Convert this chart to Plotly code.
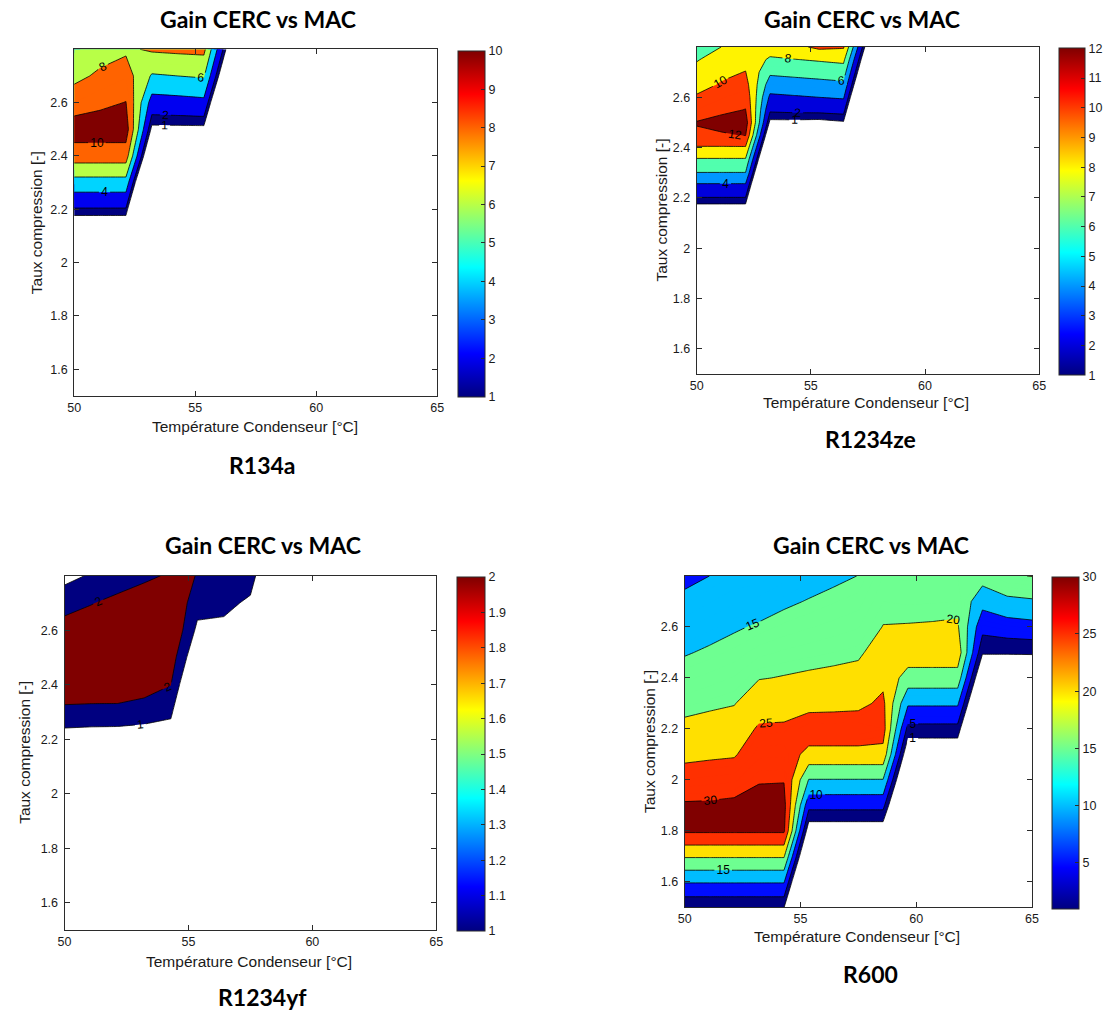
import plotly.graph_objects as go

# ---------------------------------------------------------------- data
T_COND = [50.0, 51.07, 52.14, 53.21, 54.29, 55.36, 56.43, 57.5, 58.57,
          59.64, 60.71, 61.79, 62.86, 63.93, 65.0]
TAUX = [1.5, 1.6, 1.7, 1.8, 1.9, 2.0, 2.1, 2.2, 2.3, 2.4, 2.5, 2.6, 2.7, 2.8]
TAUX_FINE = [1.5, 1.6, 1.7, 1.8, 1.9, 2.0, 2.1, 2.15, 2.2, 2.25, 2.3, 2.35,
             2.4, 2.45, 2.5, 2.55, 2.6, 2.65, 2.7, 2.75, 2.8]

# gain along "taux compression" for each condenser temperature (one list per T)
R134A_COLS = [
    [-22, -19, -15.5, -12, -8.8, -5.3, -1.8, 1.84, 5.2, 9.0, 11.0, 9.0, 7.55, 6.9],
    [-22, -19, -15.5, -12, -8.8, -5.3, -1.8, 1.84, 5.2, 9.0, 11.0, 9.6, 8.3, 7.3],
    [-22, -19, -15.5, -12, -8.8, -5.3, -1.8, 1.84, 5.2, 9.0, 11.0, 10.05, 8.9, 7.7],
    [-40, -36, -32, -28, -24, -20, -16, -11.5, -6.5, -2.7, 0.6, 3.15, 5.8, 8.25],
    [-40, -36, -32, -28, -24, -20, -16, -11.5, -6.5, -2.7, 0.6, 3.3, 6.0, 8.4],
    [-40, -36, -32, -28, -24, -20, -16, -11.5, -6.5, -2.7, 0.6, 3.5, 6.2, 8.5],
    [-40, -37, -34, -31, -28, -25, -22, -18.9, -15.7, -12.5, -9.3, -6.1, -2.9, -0.3],
    [-40, -40, -40, -40, -40, -40, -40, -40, -40, -40, -40, -40, -40, -40],
]
R1234ZE_COLS = [
    [-25, -21, -17, -13.3, -9.5, -5.7, -1.9, 0.0, 1.92, 3.7, 5.95, 7.7, 9.8, 11.75, 12.1, 11.0, 10.2, 9.4, 8.64, 7.86, 7.1],
    [-25, -21, -17, -13.3, -9.5, -5.7, -1.9, 0.0, 1.92, 3.7, 5.95, 7.7, 9.8, 11.8, 12.6, 11.6, 10.9, 10.15, 9.6, 8.9, 8.0],
    [-25, -21, -17, -13.3, -9.5, -5.7, -1.9, 0.0, 1.92, 3.7, 5.95, 7.7, 9.8, 12.1, 13.0, 12.05, 11.4, 10.7, 10.05, 9.5, 9.0],
    [-32, -29, -26, -23, -20, -17, -14, -12.5, -10.9, -8.6, -7.4, -5.2, -3.3, -1.4, 0.63, 2.27, 3.6, 5.0, 6.35, 7.7, 9.0],
    [-32, -29, -26, -23, -20, -17, -14, -12.5, -10.9, -8.6, -7.4, -5.2, -3.3, -1.4, 0.63, 2.4, 3.8, 5.2, 6.55, 7.95, 9.5],
    [-32, -29, -26, -23, -20, -17, -14, -12.5, -10.9, -8.6, -7.4, -5.2, -3.3, -1.4, 0.55, 2.45, 4.0, 5.4, 6.75, 8.2, 10.4],
    [-32, -29, -26, -23, -20, -17, -14, -12.5, -10.9, -8.6, -7.4, -5.2, -3.3, -1.4, 0.85, 2.6, 4.2, 5.6, 7.0, 8.45, 10.2],
    [-35, -32, -29, -26, -23, -20, -17, -15, -14, -13, -12, -11.5, -11.2, -11.1, -11, -9.25, -7.2, -5.1, -3.4, -1.9, -0.37],
    [-35, -35, -35, -35, -35, -35, -35, -35, -35, -35, -35, -35, -35, -35, -35, -35, -35, -35, -35, -35, -35],
]
R1234YF_COLS = [
    [-7.6, -6.4, -5.3, -4.1, -3.0, -1.8, -0.64, 0.52, 1.69, 2.85, 2.75, 2.46, 1.58, 0.7],
    [-7.6, -6.4, -5.3, -4.1, -3.0, -1.8, -0.64, 0.46, 1.65, 2.8, 2.8, 2.6, 1.95, 1.1],
    [-7.6, -6.4, -5.3, -4.1, -3.0, -1.8, -0.64, 0.44, 1.64, 2.8, 2.9, 2.8, 2.3, 1.42],
    [-7.6, -6.4, -5.3, -4.1, -3.0, -1.8, -0.64, 0.42, 1.47, 2.5, 2.8, 2.85, 2.5, 1.82],
    [-7.6, -6.4, -5.3, -4.1, -3.0, -1.8, -0.64, 0.4, 1.2, 2.02, 2.5, 3.0, 3.0, 2.11],
    [-7.0, -6.3, -5.6, -4.9, -4.2, -3.5, -2.9, -2.4, -1.8, -1.1, 0.0, 0.78, 1.38, 1.99],
    [-7.0, -6.3, -5.6, -4.9, -4.2, -3.5, -2.9, -2.4, -1.8, -1.1, -0.2, 0.7, 1.3, 1.8],
    [-7.0, -6.3, -5.6, -4.9, -4.2, -3.5, -2.9, -2.4, -1.8, -1.1, -0.6, 0.2, 0.8, 1.5],
    [-7.0, -6.3, -5.6, -4.9, -4.2, -3.5, -2.9, -2.4, -1.8, -1.5, -1.4, -1.3, -1.2, -1.0],
]
R600_COLS = [
    [1.2, 10.4, 20.5, 30.7, 30.5, 27.1, 23.9, 21.1, 18.7, 16.7, 14.7, 12.8, 10.9, 9.0],
    [1.2, 10.4, 20.5, 30.7, 30.6, 27.4, 24.3, 21.6, 19.3, 17.4, 15.5, 13.7, 11.9, 10.0],
    [1.2, 10.4, 20.5, 30.7, 31.0, 27.7, 24.6, 22.2, 19.8, 18.1, 16.3, 14.6, 12.8, 11.1],
    [1.2, 10.4, 20.5, 30.7, 31.5, 29.7, 27.7, 25.6, 22.8, 19.8, 17.6, 15.4, 13.4, 11.4],
    [1.2, 10.4, 20.5, 30.7, 31.5, 29.8, 27.8, 25.7, 23.1, 20.2, 18.2, 16.3, 14.4, 12.5],
    [-27.6, -19.1, -10.6, -2.1, 6.5, 14.8, 23.5, 28.0, 23.3, 20.6, 18.6, 16.9, 15.2, 13.5],
    [-27.6, -19.1, -10.6, -2.1, 6.5, 14.8, 23.5, 28.0, 23.5, 20.9, 19.0, 17.4, 15.9, 14.3],
    [-27.6, -19.1, -10.6, -2.1, 6.5, 14.8, 23.5, 28.0, 23.8, 21.3, 19.4, 17.9, 16.5, 15.05],
    [-27.6, -19.1, -10.6, -2.1, 6.5, 14.8, 23.5, 27.0, 26.0, 23.8, 21.9, 20.1, 19.0, 18.0],
    [-46.4, -39.3, -32.1, -25.0, -17.8, -10.7, -3.6, 3.6, 10.7, 17.9, 23.0, 20.2, 18.8, 17.8],
    [-46.4, -39.3, -32.1, -25.0, -17.8, -10.7, -3.6, 3.6, 10.7, 17.9, 23.0, 20.3, 18.9, 17.9],
    [-46.4, -39.3, -32.1, -25.0, -17.8, -10.7, -3.6, 3.6, 10.7, 17.9, 23.0, 20.5, 19.0, 18.0],
    [-69, -62, -55, -48, -41, -34, -27, -20, -12.4, -5.6, 1.5, 6.6, 11.7, 17.1],
    [-69, -62, -55, -48, -41, -34, -27, -20, -12.4, -5.6, 1.5, 7.75, 13.8, 19.6],
    [-69, -62, -55, -48, -41, -34, -27, -20, -12.4, -5.6, 1.6, 8.35, 14.4, 20.1],
]

LEVELS_R134A = [1, 2, 4, 6, 8, 10]
LEVELS_R1234ZE = [1, 2, 4, 6, 8, 10, 12]
LEVELS_R1234YF = [1, 2]
LEVELS_R600 = [1, 5, 10, 15, 20, 25, 30]

CB_TICKS_R134A = [1, 2, 3, 4, 5, 6, 7, 8, 9, 10]
CB_TICKS_R1234ZE = [1, 2, 3, 4, 5, 6, 7, 8, 9, 10, 11, 12]
CB_TICKS_R1234YF = [1, 1.1, 1.2, 1.3, 1.4, 1.5, 1.6, 1.7, 1.8, 1.9, 2]
CB_TEXT_R1234YF = ["1", "1.1", "1.2", "1.3", "1.4", "1.5", "1.6", "1.7", "1.8", "1.9", "2"]
CB_TICKS_R600 = [5, 10, 15, 20, 25, 30]

X_TICKS = [50, 55, 60, 65]
Y_TICKS = [1.6, 1.8, 2.0, 2.2, 2.4, 2.6]
Y_TICKTEXT = ["1.6", "1.8", "2", "2.2", "2.4", "2.6"]

TITLE = "Gain CERC vs MAC"
X_TITLE = "Température Condenseur [°C]"
Y_TITLE = "Taux compression [-]"

# ---------------------------------------------------------------- helpers
W, H = 1110, 1011
AX_FONT = "Liberation Sans, Arial, sans-serif"
AX_COLOR = "#2b2b2b"


def jet_rgb(t):
    t = min(max(t, 0.0), 1.0)
    r = min(max(1.5 - abs(4 * t - 3), 0), 1)
    g = min(max(1.5 - abs(4 * t - 2), 0), 1)
    b = min(max(1.5 - abs(4 * t - 1), 0), 1)
    return "rgb(%d,%d,%d)" % (round(255 * r), round(255 * g), round(255 * b))


JET_SCALE = [[i / 64, jet_rgb(i / 64)] for i in range(65)]


def fill_scale(levels):
    lo, hi = levels[0], levels[-1]
    n = int(round(hi - lo)) + 1
    scale = [[0.0, "white"], [0.5 / n, "white"]]
    for k in range(n):
        v = lo + k
        lv = max(l for l in levels if l <= v + 1e-9)
        c = jet_rgb((lv - lo) / (hi - lo))
        scale.append([(k + 0.5) / n, c])
        scale.append([min((k + 1.5) / n, 1.0), c])
    return scale


def fx(px):
    return px / W


def fy(py):
    return 1 - py / H


PANELS = [
    dict(name="R134a", x=T_COND[:len(R134A_COLS)], y=TAUX, cols=R134A_COLS,
         levels=LEVELS_R134A, cbt=CB_TICKS_R134A, cbtext=None,
         plot=(68, 435.7, 49.3, 396), cb=(456.7, 27.3, 50.7, 396.7),
         title=(253.8, 19), label=(258.3, 465), xt=(250.7, 426), yt=(30, 222.6)),
    dict(name="R1234ze", x=T_COND[:len(R1234ZE_COLS)], y=TAUX_FINE, cols=R1234ZE_COLS,
         levels=LEVELS_R1234ZE, cbt=CB_TICKS_R1234ZE, cbtext=None,
         plot=(698.5, 1045.4, 47, 374), cb=(1065.4, 26, 48.3, 375.3),
         title=(865.5, 19), label=(875, 439), xt=(870.4, 403), yt=(662.4, 210.5)),
    dict(name="R1234yf", x=T_COND[:len(R1234YF_COLS)], y=TAUX, cols=R1234YF_COLS,
         levels=LEVELS_R1234YF, cbt=CB_TICKS_R1234YF, cbtext=CB_TEXT_R1234YF,
         plot=(58.3, 434.7, 575.7, 930), cb=(456, 28.3, 576.7, 931),
         title=(258.8, 545), label=(259.2, 997), xt=(245.3, 961.7), yt=(18.3, 752.8)),
    dict(name="R600", x=T_COND[:len(R600_COLS)], y=TAUX, cols=R600_COLS,
         levels=LEVELS_R600, cbt=CB_TICKS_R600, cbtext=None,
         plot=(686.3, 1038.1, 576, 907.3), cb=(1058.1, 26.6, 576.7, 908.7),
         title=(875, 545), label=(875, 974), xt=(860.6, 936.7), yt=(650.5, 741.7)),
]

fig = go.Figure()
annotations = []
layout_axes = {}

for i, p in enumerate(PANELS, start=1):
    xs = "x" if i == 1 else "x%d" % i
    ys = "y" if i == 1 else "y%d" % i
    z = [list(r) for r in zip(*p["cols"])]
    lv = p["levels"]
    lo, hi = lv[0], lv[-1]

    # filled bands (white below the first level, MATLAB-style)
    fig.add_trace(go.Contour(
        x=p["x"], y=p["y"], z=z, xaxis=xs, yaxis=ys,
        autocontour=False,
        contours=dict(start=lo, end=hi, size=1, coloring="fill", showlines=False),
        colorscale=fill_scale(lv), showscale=False,
        line=dict(width=0, smoothing=0), hoverinfo="skip"))

    # black contour lines with labels
    rest = lv[1:]
    step = (rest[1] - rest[0]) if len(rest) > 1 else 1
    for (s, e, sz) in [(lo, lo + 0.5, 1), (rest[0], rest[-1] + step * 0.25, step)]:
        fig.add_trace(go.Contour(
            x=p["x"], y=p["y"], z=z, xaxis=xs, yaxis=ys,
            autocontour=False,
            contours=dict(start=s, end=e, size=sz, coloring="none",
                          showlabels=True,
                          labelfont=dict(family=AX_FONT, size=12, color="black")),
            line=dict(color="black", width=0.8, smoothing=0),
            showscale=False, hoverinfo="skip"))

    # continuous jet colour bar
    cbx, cbw, cbt_top, cbt_bot = p["cb"]
    cbar = dict(x=fx(cbx), xanchor="left", xref="paper",
                y=fy(cbt_bot), yanchor="bottom", yref="paper",
                len=(cbt_bot - cbt_top) / H, lenmode="fraction",
                thickness=cbw, thicknessmode="pixels", xpad=0, ypad=0,
                outlinecolor=AX_COLOR, outlinewidth=1,
                ticks="inside", ticklen=4, tickcolor=AX_COLOR,
                tickvals=p["cbt"],
                tickfont=dict(family=AX_FONT, size=12.5, color="#1a1a1a"))
    if p["cbtext"]:
        cbar["ticktext"] = p["cbtext"]
    fig.add_trace(go.Scatter(
        x=[None], y=[None], xaxis=xs, yaxis=ys, mode="markers",
        marker=dict(color=[lo], cmin=lo, cmax=hi, colorscale=JET_SCALE,
                    showscale=True, colorbar=cbar),
        showlegend=False, hoverinfo="skip"))

    x0, x1, y0, y1 = p["plot"]
    common = dict(showline=True, mirror="ticks", linecolor=AX_COLOR, linewidth=1,
                  ticks="inside", ticklen=5, tickcolor=AX_COLOR, showgrid=False,
                  zeroline=False, tickfont=dict(family=AX_FONT, size=12.5, color="#1a1a1a"))
    layout_axes["xaxis" if i == 1 else "xaxis%d" % i] = dict(
        domain=[fx(x0), fx(x1)], range=[50, 65], tickvals=X_TICKS,
        anchor=ys, **common)
    layout_axes["yaxis" if i == 1 else "yaxis%d" % i] = dict(
        domain=[fy(y1), fy(y0)], range=[1.5, 2.8], tickvals=Y_TICKS,
        ticktext=Y_TICKTEXT, anchor=xs, ticklabelstandoff=3, **common)

    tx, ty = p["title"]
    annotations.append(dict(text="<b>%s</b>" % TITLE, x=fx(tx), y=fy(ty), xref="paper", yref="paper",
                            xanchor="center", yanchor="middle", showarrow=False,
                            font=dict(family="Lato, Open Sans, sans-serif", size=23, color="black")))
    lx, ly = p["label"]
    annotations.append(dict(text="<b>%s</b>" % p["name"], x=fx(lx), y=fy(ly), xref="paper", yref="paper",
                            xanchor="center", yanchor="middle", showarrow=False,
                            font=dict(family="Lato, Open Sans, sans-serif", size=23, color="black")))
    ax_, ay_ = p["xt"]
    annotations.append(dict(text=X_TITLE, x=fx(ax_), y=fy(ay_), xref="paper", yref="paper",
                            xanchor="center", yanchor="middle", showarrow=False,
                            font=dict(family=AX_FONT, size=15.5, color="#1a1a1a")))
    bx, by = p["yt"]
    annotations.append(dict(text=Y_TITLE, x=fx(bx), y=fy(by), xref="paper", yref="paper",
                            xanchor="center", yanchor="middle", showarrow=False, textangle=-90,
                            font=dict(family=AX_FONT, size=15.5, color="#1a1a1a")))

fig.update_layout(
    width=W, height=H, autosize=False,
    margin=dict(l=0, r=0, t=0, b=0),
    paper_bgcolor="white", plot_bgcolor="white",
    showlegend=False, annotations=annotations, **layout_axes)

fig.write_html("out.html", config={"displayModeBar": False},
               post_script="document.body.style.margin='0';")
